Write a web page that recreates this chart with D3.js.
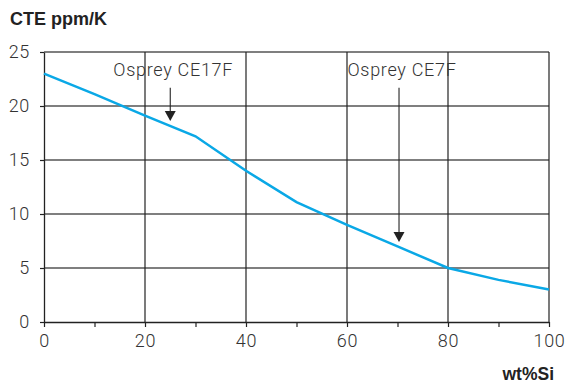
<!DOCTYPE html>
<html>
<head>
<meta charset="utf-8">
<script src="https://cdn.jsdelivr.net/npm/d3@7"></script>
<style>
  body { margin: 0; background: #fff; }
  svg { display: block; }
  .lbl { font-family: Roboto, "Liberation Sans", sans-serif; font-weight: 300; fill: #333; letter-spacing: 0.7px; }
  .bold { font-family: "Liberation Sans", Arial, sans-serif; font-weight: 700; fill: #222; }
</style>
</head>
<body>
<svg id="chart"></svg>
<script>
// data
let siPct = [0, 10, 20, 30, 40, 50, 60, 70, 80, 90, 100];
let cte = [23, 21.1, 19.1, 17.2, 14, 11.1, 9, 7, 5, 3.9, 3];
let xTicks = [0, 10, 20, 30, 40, 50, 60, 70, 80, 90, 100];
let xLabels = [0, 20, 40, 60, 80, 100];
let yTicks = [0, 5, 10, 15, 20, 25];
let markerNames = ["Osprey CE17F", "Osprey CE7F"];
let markerX = [25, 70.3];
let markerFrom = [21.7, 21.7];
let markerTo = [18.6, 7.4];

var svg = d3.select("#chart")
    .attr("width", 567)
    .attr("height", 384);

var pLeft = 44, pRight = 549, pTop = 52, pBottom = 322;

var x = d3.scaleLinear().domain([0, 100]).range([pLeft, pRight]);
var y = d3.scaleLinear().domain([0, 25]).range([pBottom, pTop]);

// horizontal grid
svg.append("g")
    .selectAll("line")
    .data(yTicks.filter(d => d > 0))
    .enter()
    .append("line")
    .attr("x1", pLeft)
    .attr("x2", pRight)
    .attr("y1", d => y(d))
    .attr("y2", d => y(d))
    .style("stroke", "#555")
    .style("stroke-width", 1.3);

// vertical grid
svg.append("g")
    .selectAll("line")
    .data(xLabels.filter(d => d > 0))
    .enter()
    .append("line")
    .attr("x1", d => x(d))
    .attr("x2", d => x(d))
    .attr("y1", pTop)
    .attr("y2", pBottom)
    .style("stroke", "#222")
    .style("stroke-width", 1.2);

// x axis
var xAxis = svg.append("g")
    .attr("transform", "translate(0," + pBottom + ")")
    .call(d3.axisBottom(x).tickValues(xTicks).tickSize(5).tickSizeOuter(0)
        .tickFormat(d => xLabels.indexOf(d) >= 0 ? d : ""));
xAxis.select(".domain").style("stroke", "#222").style("stroke-width", 1.3);
xAxis.selectAll(".tick line").style("stroke", "#222").style("stroke-width", 1.2);
xAxis.selectAll("text")
    .attr("class", "lbl")
    .attr("y", 12)
    .style("font-size", "18px");

// y axis
var yAxis = svg.append("g")
    .attr("transform", "translate(" + pLeft + ",0)")
    .call(d3.axisLeft(y).tickValues(yTicks).tickSize(4).tickSizeOuter(0));
yAxis.select(".domain").style("stroke", "#222").style("stroke-width", 1.3);
yAxis.selectAll(".tick line").style("stroke", "#222").style("stroke-width", 1.2);
yAxis.selectAll("text")
    .attr("class", "lbl")
    .attr("x", -14)
    .style("font-size", "18px");

// curve
var line = d3.line()
    .x((d, i) => x(siPct[i]))
    .y(d => y(d));

svg.append("path")
    .datum(cte)
    .attr("d", line)
    .style("fill", "none")
    .style("stroke", "#0aa8e6")
    .style("stroke-width", 2.5);

// markers
markerNames.forEach(function(name, i) {
    var xp = x(markerX[i]);
    svg.append("text")
        .attr("class", "lbl")
        .attr("x", xp + 3)
        .attr("y", 76)
        .attr("text-anchor", "middle")
        .style("font-size", "18px")
        .text(name);

    svg.append("line")
        .attr("x1", xp)
        .attr("x2", xp)
        .attr("y1", y(markerFrom[i]))
        .attr("y2", y(markerTo[i]) - 8)
        .style("stroke", "#222")
        .style("stroke-width", 1.1);

    var tip = y(markerTo[i]);
    svg.append("path")
        .attr("d", "M" + (xp - 5.5) + "," + (tip - 10) + "L" + (xp + 5.5) + "," + (tip - 10) + "L" + xp + "," + tip + "Z")
        .style("fill", "#222");
});

// titles
svg.append("text")
    .attr("class", "bold")
    .attr("x", 10)
    .attr("y", 25)
    .style("font-size", "18px")
    .text("CTE ppm/K");

svg.append("text")
    .attr("class", "bold")
    .attr("x", 554)
    .attr("y", 380)
    .attr("text-anchor", "end")
    .style("font-size", "17.5px")
    .text("wt%Si");
</script>
</body>
</html>
